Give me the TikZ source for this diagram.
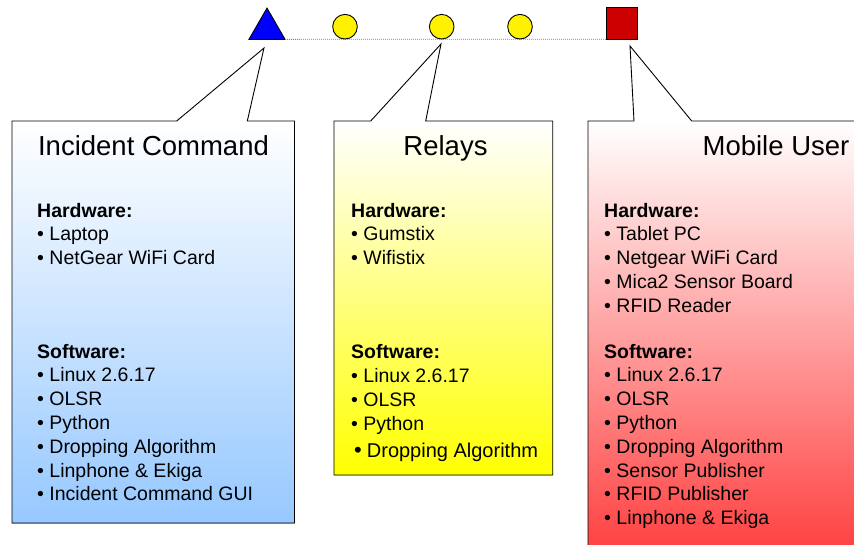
\documentclass[tikz,border=0pt]{standalone}
\usepackage{fontspec}
\setmainfont{Liberation Sans}
\usetikzlibrary{shapes.geometric}
\definecolor{icblue}{RGB}{150,200,255}
\definecolor{relyellow}{RGB}{255,255,0}
\definecolor{mured}{RGB}{255,68,68}
\definecolor{trired}{RGB}{204,0,0}
\tikzset{
  callout/.style={draw=black, line width=0.9pt, line join=miter},
  titletext/.style={font=\fontsize{27.5}{33}\selectfont, inner sep=0pt, anchor=base},
  body/.style={font=\fontsize{19.5}{23.8}\selectfont, align=left, inner sep=0pt, anchor=base west},
  relay/.style={circle, draw=black, line width=0.9pt, fill=yellow, minimum size=24.6pt, inner sep=0pt},
  link/.style={draw=gray, line width=0.9pt, dash pattern=on 1pt off 1pt}
}
\begin{document}
\begin{tikzpicture}[x=1pt,y=-1pt]
\useasboundingbox (0,0) rectangle (854,544);
\clip (0,0) rectangle (854,544);
% network
\node[regular polygon, regular polygon sides=3, draw=black, line width=0.9pt, fill=blue, minimum size=41.6pt, inner sep=0pt, outer sep=0pt] (tri) at (267,28.9) {};
\node[draw=black, line width=0.9pt, fill=trired, minimum size=31.5pt, inner sep=0pt, outer sep=0pt] (sq) at (622,23.5) {};
\draw[link] (tri.corner 3) -- (sq.south west);
\node[relay] (r1) at (345,26.7) {};
\node[relay] (r2) at (441.7,26.7) {};
\node[relay] (r3) at (520,26.7) {};
% callouts
\fill[white] (12,121) -- (176.7,121) -- (264,48) -- (247.3,121) -- cycle;
\shade[top color=white, bottom color=icblue] (12,121) rectangle (294.5,523);
\draw[callout] (12,121) -- (176.7,121) -- (264,48) -- (247.3,121) -- (294.5,121) -- (294.5,523) -- (12,523) -- cycle;
\fill[white] (334,121) -- (370.7,121) -- (441,44) -- (425.7,121) -- cycle;
\shade[top color=white, bottom color=relyellow] (334,121) rectangle (552.7,475);
\draw[callout] (334,121) -- (370.7,121) -- (441,44) -- (425.7,121) -- (552.7,121) -- (552.7,475) -- (334,475) -- cycle;
\fill[white] (588,121) -- (634,121) -- (630,46) -- (691.7,121) -- cycle;
\shade[top color=white, bottom color=mured] (588,121) rectangle (964,544);
\draw[callout] (588,121) -- (634,121) -- (630,46) -- (691.7,121) -- (964,121) -- (964,600) -- (588,600) -- cycle;
% titles
\node[titletext] (ict) at (153.5,155) {Incident Command};
\node[titletext] (relt) at (445.5,155) {Relays};
\node[titletext] (mut) at (776,155) {Mobile User};
% incident command text (anchor = baseline of last line)
\node[body] (ichw) at (37,264.6) {\textbf{Hardware:}\\\textbullet\ Laptop\\\textbullet\ NetGear WiFi Card};
\node[body] (icsw) at (37,500.8) {\textbf{Software:}\\\textbullet\ Linux 2.6.17\\\textbullet\ OLSR\\\textbullet\ Python\\\textbullet\ Dropping Algorithm\\\textbullet\ Linphone \& Ekiga\\\textbullet\ Incident Command GUI};
% relays text
\node[body] (relhw) at (351,264.6) {\textbf{Hardware:}\\\textbullet\ Gumstix\\\textbullet\ Wifistix};
\node[body] (relsw) at (351,457) {\textbf{Software:}\\\textbullet\ Linux 2.6.17\\\textbullet\ OLSR\\\textbullet\ Python\\[3pt]\hspace{3pt}{\fontsize{22}{24}\selectfont\textbullet}\hspace{5pt}{\fontsize{20}{24}\selectfont Dropping Algorithm}};
% mobile user text
\node[body] (muhw) at (604,312.2) {\textbf{Hardware:}\\\textbullet\ Tablet PC\\\textbullet\ Netgear WiFi Card\\\textbullet\ Mica2 Sensor Board\\\textbullet\ RFID Reader};
\node[body] (musw) at (604,524.6) {\textbf{Software:}\\\textbullet\ Linux 2.6.17\\\textbullet\ OLSR\\\textbullet\ Python\\\textbullet\ Dropping Algorithm\\\textbullet\ Sensor Publisher\\\textbullet\ RFID Publisher\\\textbullet\ Linphone \& Ekiga};
\end{tikzpicture}
\end{document}
